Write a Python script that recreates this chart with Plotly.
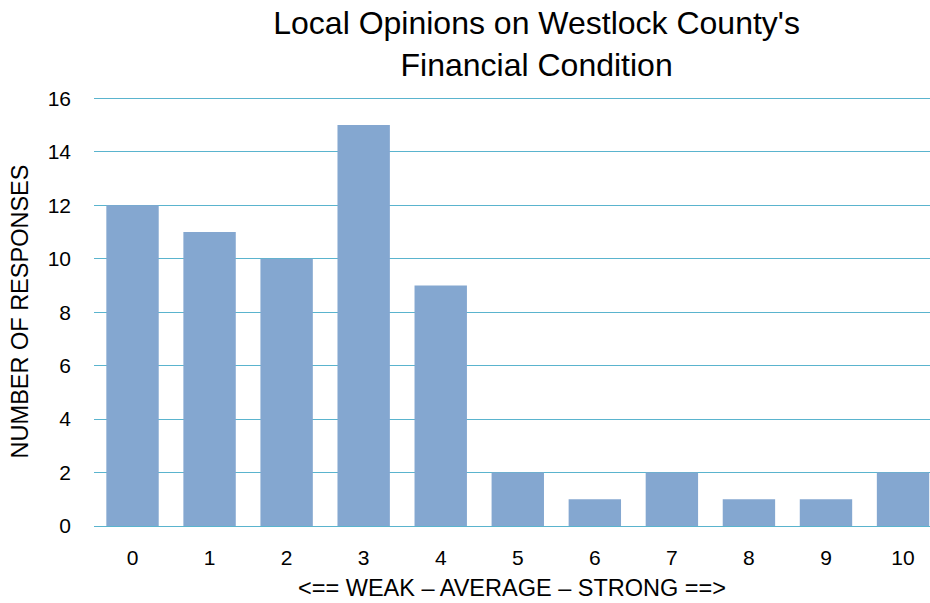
import plotly.graph_objects as go

# Survey ratings (0 = weak, 10 = strong) and number of responses for each
ratings = [0, 1, 2, 3, 4, 5, 6, 7, 8, 9, 10]
responses = [12, 11, 10, 15, 9, 2, 1, 2, 1, 1, 2]
y_ticks = [0, 2, 4, 6, 8, 10, 12, 14, 16]

font_family = "Liberation Sans, Arial, sans-serif"
grid_color = "#5AB4CE"

fig = go.Figure(
    go.Bar(
        x=ratings,
        y=responses,
        marker=dict(color="#84A7D0", line=dict(width=0)),
        width=0.68,
    )
)

fig.update_layout(
    width=930,
    height=603,
    margin=dict(l=94, r=0, t=97, b=77),
    paper_bgcolor="white",
    plot_bgcolor="white",
    showlegend=False,
    font=dict(family=font_family, color="black"),
    title=dict(
        text="Local Opinions on Westlock County's<br>Financial Condition",
        x=0.577,
        xanchor="center",
        y=0.943,
        yanchor="top",
        font=dict(size=32, family=font_family, color="black"),
    ),
)

fig.update_xaxes(
    tickmode="array",
    tickvals=ratings,
    ticktext=[str(r) for r in ratings],
    range=[-0.5, 10.35],
    showgrid=False,
    zeroline=False,
    showline=False,
    ticks="",
    tickfont=dict(size=21),
    ticklabelstandoff=17,
    title=dict(text="<== WEAK – AVERAGE – STRONG ==>", font=dict(size=23.5), standoff=11),
)

fig.update_yaxes(
    tickmode="array",
    tickvals=y_ticks,
    range=[0, 16.05],
    showgrid=True,
    gridcolor=grid_color,
    gridwidth=1.3,
    zeroline=True,
    zerolinecolor=grid_color,
    zerolinewidth=1.3,
    layer="above traces",
    ticks="",
    tickfont=dict(size=21),
    ticklabelstandoff=22,
    title=dict(text="NUMBER OF RESPONSES", font=dict(size=23.5), standoff=12),
)

fig.write_html("out.html")
